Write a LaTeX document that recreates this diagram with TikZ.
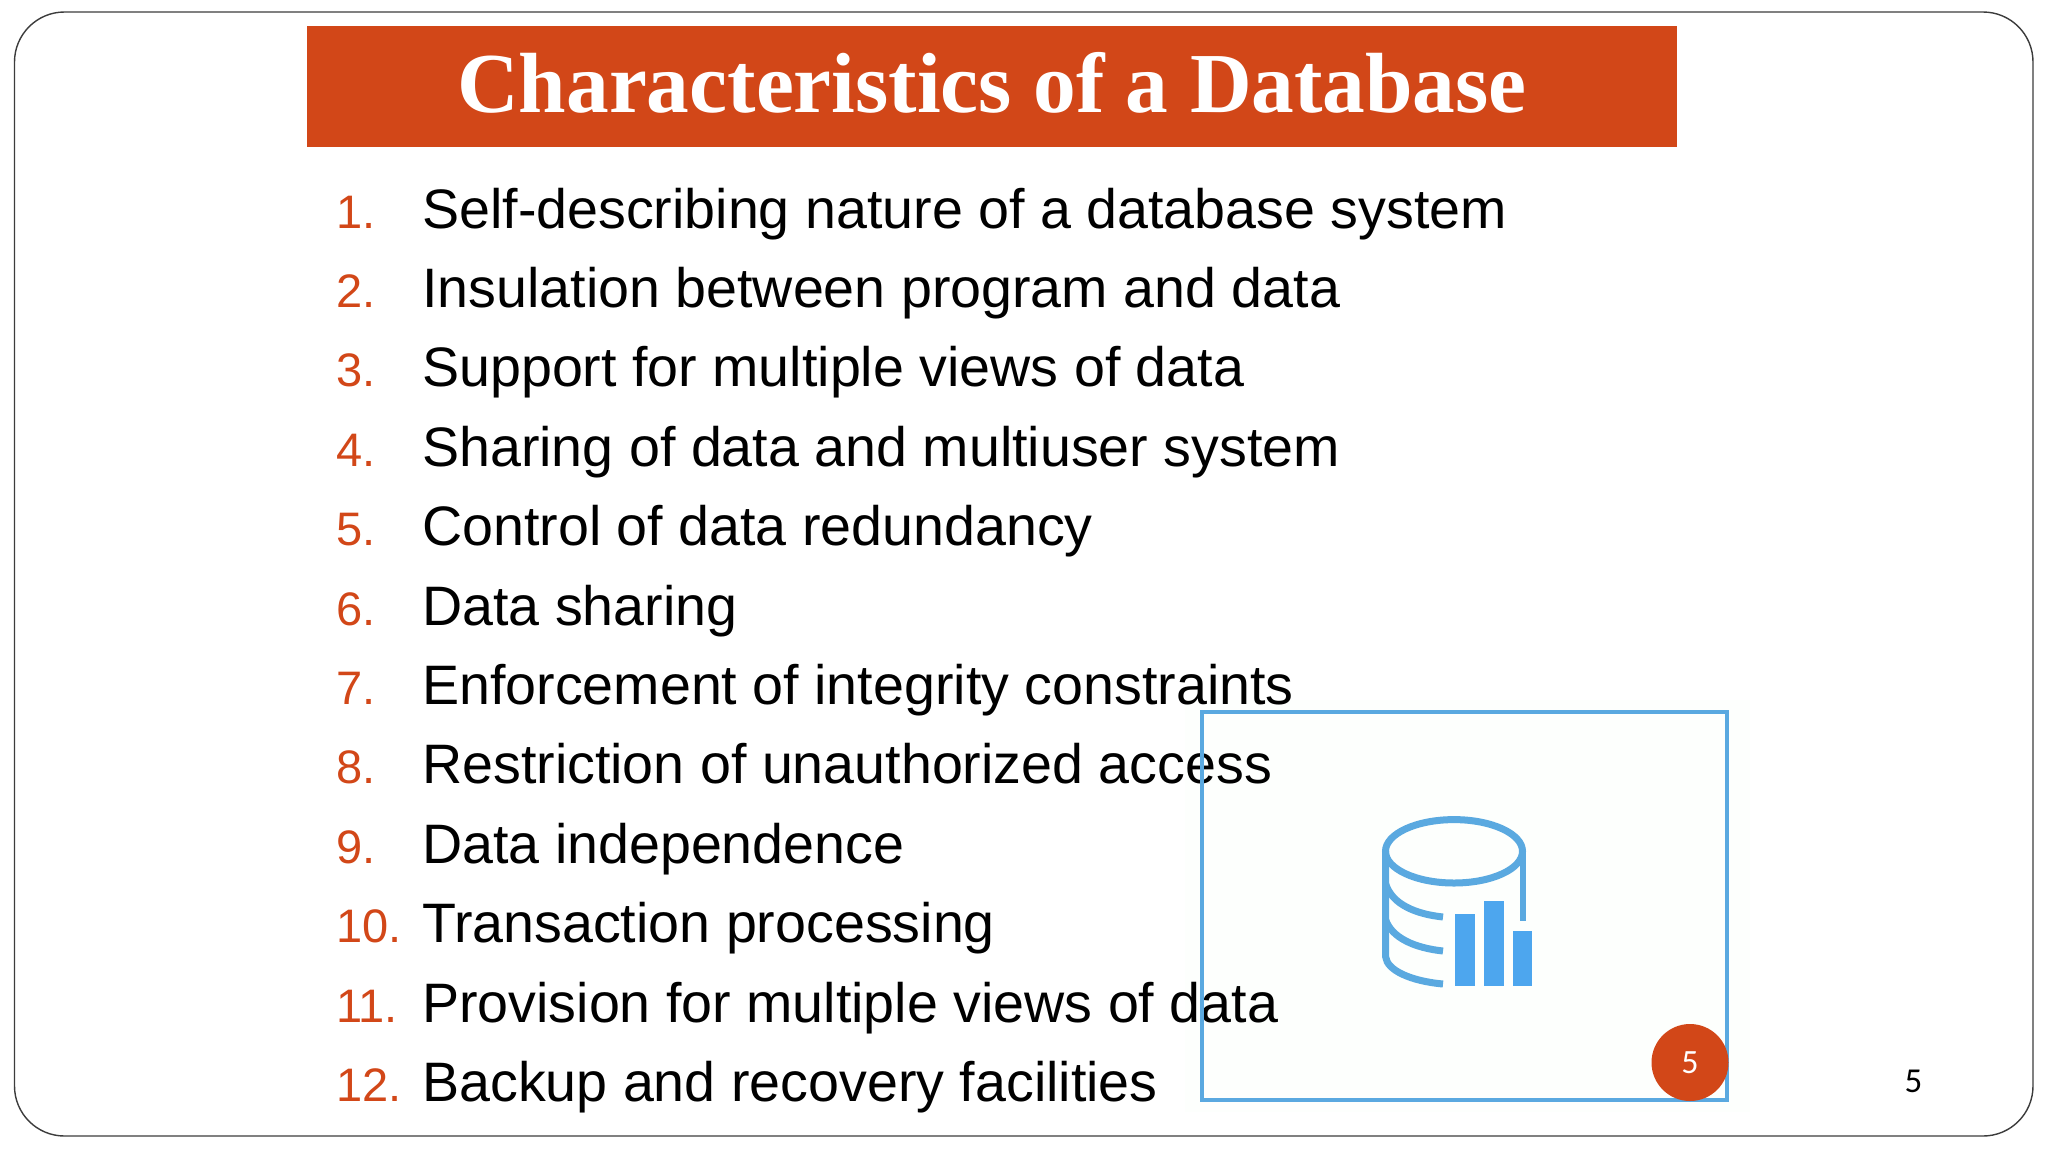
\documentclass[tikz,border=0pt]{standalone}
\usepackage{fontspec}
\setmainfont{Liberation Sans}
\newfontfamily\titlefont{Liberation Serif}
\newfontfamily\numfont{Carlito}
\definecolor{rust}{HTML}{D24718}
\definecolor{skyline}{HTML}{5AA9E0}
\definecolor{skybar}{HTML}{4DA6EE}
\definecolor{framegray}{HTML}{3C3C3C}
\definecolor{offwhite}{HTML}{FDFFFD}
\tikzset{
  itemtext/.style={anchor=base west,inner sep=0pt,font=\fontsize{55.6}{60}\selectfont,text=black},
  itemnum/.style={anchor=base west,inner sep=0pt,font=\fontsize{47}{50}\selectfont,text=rust},
  iconline/.style={draw=skyline,line width=7pt},
  iconbar/.style={fill=skybar}
}
\begin{document}
\begin{tikzpicture}[x=1pt,y=-1pt]
\useasboundingbox (0,0) rectangle (2048,1152);
\fill[white] (0,0) rectangle (2048,1152);
\draw[framegray,line width=1.4pt,rounded corners=50pt] (14.5,12) rectangle (2033,1136);
\fill[rust] (307,25.5) rectangle (1677,147);
\node[anchor=base,inner sep=0pt,text=white,font=\titlefont\bfseries\fontsize{85.4}{85.4}\selectfont] (title) at (992,112) {Characteristics of a Database};
\fill[offwhite] (1185,700) rectangle (1750,1112);
\foreach \n/\t [count=\i from 0] in {
 1./Self-describing nature of a database system,
 2./Insulation between program and data,
 3./Support for multiple views of data,
 4./Sharing of data and multiuser system,
 5./Control of data redundancy,
 6./Data sharing,
 7./Enforcement of integrity constraints,
 8./Restriction of unauthorized access,
 9./Data independence,
 10./Transaction processing,
 11./Provision for multiple views of data,
 12./Backup and recovery facilities}{
  \node[itemnum] (num\i) at (336,{228+79.4*\i}) {\n};
  \node[itemtext] (item\i) at (422,{228+79.4*\i}) {\t};
}
\draw[skyline,line width=4pt] (1202,712) rectangle (1727,1100);
% icon
\draw[iconline] (1454,851.3) ellipse [x radius=68.5,y radius=31.7];
\draw[iconline] (1385.7,851) -- (1385.7,957) .. controls (1387,970) and (1410,981) .. (1443,984);
\draw[iconline,line width=5.5pt] (1523,851) -- (1523,921);
\draw[iconline] (1385.7,884) .. controls (1392,904) and (1415,914) .. (1443,917);
\draw[iconline] (1385.7,920) .. controls (1392,938) and (1415,948) .. (1443,951);
\fill[iconbar] (1455,914) rectangle (1475,986);
\fill[iconbar] (1484,901) rectangle (1504,986);
\fill[iconbar] (1512.7,930.7) rectangle (1532,986);
\node[circle,fill=rust,minimum size=77pt,inner sep=0pt,text=white,font=\numfont\fontsize{34}{34}\selectfont] (badge) at (1690,1062.5) {5};
\node[anchor=base,inner sep=0pt,text=black,font=\numfont\fontsize{35}{35}\selectfont] (pageno) at (1913.5,1092) {5};
\end{tikzpicture}
\end{document}
